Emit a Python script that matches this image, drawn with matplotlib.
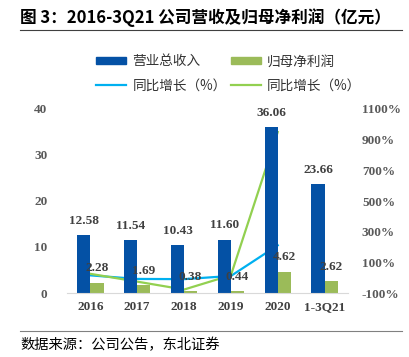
import matplotlib
matplotlib.use("Agg")
import matplotlib.pyplot as plt
import numpy as np
from matplotlib.lines import Line2D
from matplotlib.patches import Patch

categories = ["2016", "2017", "2018", "2019", "2020", "1-3Q21"]
revenue = [12.58, 11.54, 10.43, 11.60, 36.06, 23.66]
profit = [2.28, 1.69, 0.38, 0.44, 4.62, 2.62]
rev_growth = [15, -8.3, -9.6, 11.2, 210.9]
profit_growth = [25, -25.9, -77.5, 15.8, 950]
left_ticks = [0, 10, 20, 30, 40]
right_ticks = [-100, 100, 300, 500, 700, 900, 1100]

CJK = ["Noto Sans CJK SC", "DejaVu Sans"]
SERIF = ["Liberation Serif", "DejaVu Serif"]
blue = "#0451A5"
green = "#9BBB59"
lblue = "#00B0F0"
lgreen = "#92D050"
gray = "#595959"

fig = plt.figure(figsize=(4.10, 3.57), dpi=100)
ax = fig.add_axes([67/410, 1-293/357, 281/410, 184/357])
ax2 = ax.twinx()

x = np.arange(len(categories))
w = 0.28
ax.bar(x - w/2, revenue, width=w, color=blue, zorder=2)
ax.bar(x + w/2, profit, width=w, color=green, zorder=2)
ax.set_xlim(-0.5, 5.5)
ax.set_ylim(0, 40)
ax.set_yticks(left_ticks)
ax.set_yticklabels([str(t) for t in left_ticks], fontfamily=SERIF, fontweight="bold", color=gray, fontsize=9.5)
ax.set_xticks(x)
ax.set_xticklabels(categories, fontfamily=SERIF, fontweight="bold", color="#404040", fontsize=9.5)
ax.tick_params(length=0, pad=6)
ax.tick_params(axis="y", pad=14)
for s in ["top", "right", "left"]:
    ax.spines[s].set_visible(False)
ax.spines["bottom"].set_color("#D9D9D9")

for xi, v in zip(x, revenue):
    ax.annotate(f"{v:.2f}", (xi - w/2, v), xytext=(0, 6), textcoords="offset points",
                ha="center", va="bottom", fontfamily=SERIF, fontweight="bold", fontsize=9.5, color="#404040", zorder=5)
for xi, v in zip(x, profit):
    ax.annotate(f"{v:.2f}", (xi + w/2, v), xytext=(0, 6), textcoords="offset points",
                ha="center", va="bottom", fontfamily=SERIF, fontweight="bold", fontsize=9.5, color="#404040", zorder=5)

xl = x[:len(rev_growth)]
ax2.plot(xl, rev_growth, color=lblue, lw=1.6, zorder=3)
ax2.plot(xl, profit_growth, color=lgreen, lw=1.6, zorder=3)
ax2.set_ylim(-100, 1100)
ax2.set_yticks(right_ticks)
ax2.set_yticklabels([f"{t}%" for t in right_ticks], fontfamily=SERIF, fontweight="bold", color=gray, fontsize=9.5)
ax2.tick_params(length=0, pad=10)
for s in ["top", "right", "left", "bottom"]:
    ax2.spines[s].set_visible(False)
ax.set_zorder(ax2.get_zorder() + 1)
ax.patch.set_visible(False)

handles = [Patch(color=blue), Line2D([], [], color=lblue, lw=1.6),
           Patch(color=green), Line2D([], [], color=lgreen, lw=1.6)]
labels = ["营业总收入", "同比增长（%）", "归母净利润", "同比增长（%）"]
leg = fig.legend(handles, labels, loc="upper left", bbox_to_anchor=(84/410, 1-42/357), ncol=2,
                 frameon=False, prop={"family": CJK, "size": 9.8}, handlelength=2.2, handleheight=0.45,
                 columnspacing=0.3, labelspacing=0.75, handletextpad=0.45)
for t in leg.get_texts():
    t.set_color("#333333")

fig.text(20/410, 1-18/357, "图 3：2016-3Q21 公司营收及归母净利润（亿元）", fontfamily=CJK, fontweight="bold",
         fontsize=12, va="center", ha="left", color="black")
fig.add_artist(Line2D([20/410, 402/410], [1-30/357, 1-30/357], color="#404040", lw=0.8))
fig.add_artist(Line2D([20/410, 402/410], [1-331/357, 1-331/357], color="#808080", lw=0.8))
fig.text(20/410, 1-345/357, "数据来源：公司公告，东北证券", fontfamily=CJK, fontsize=10.3, va="center", ha="left", color="black")

fig.savefig("out.png", dpi=100)
